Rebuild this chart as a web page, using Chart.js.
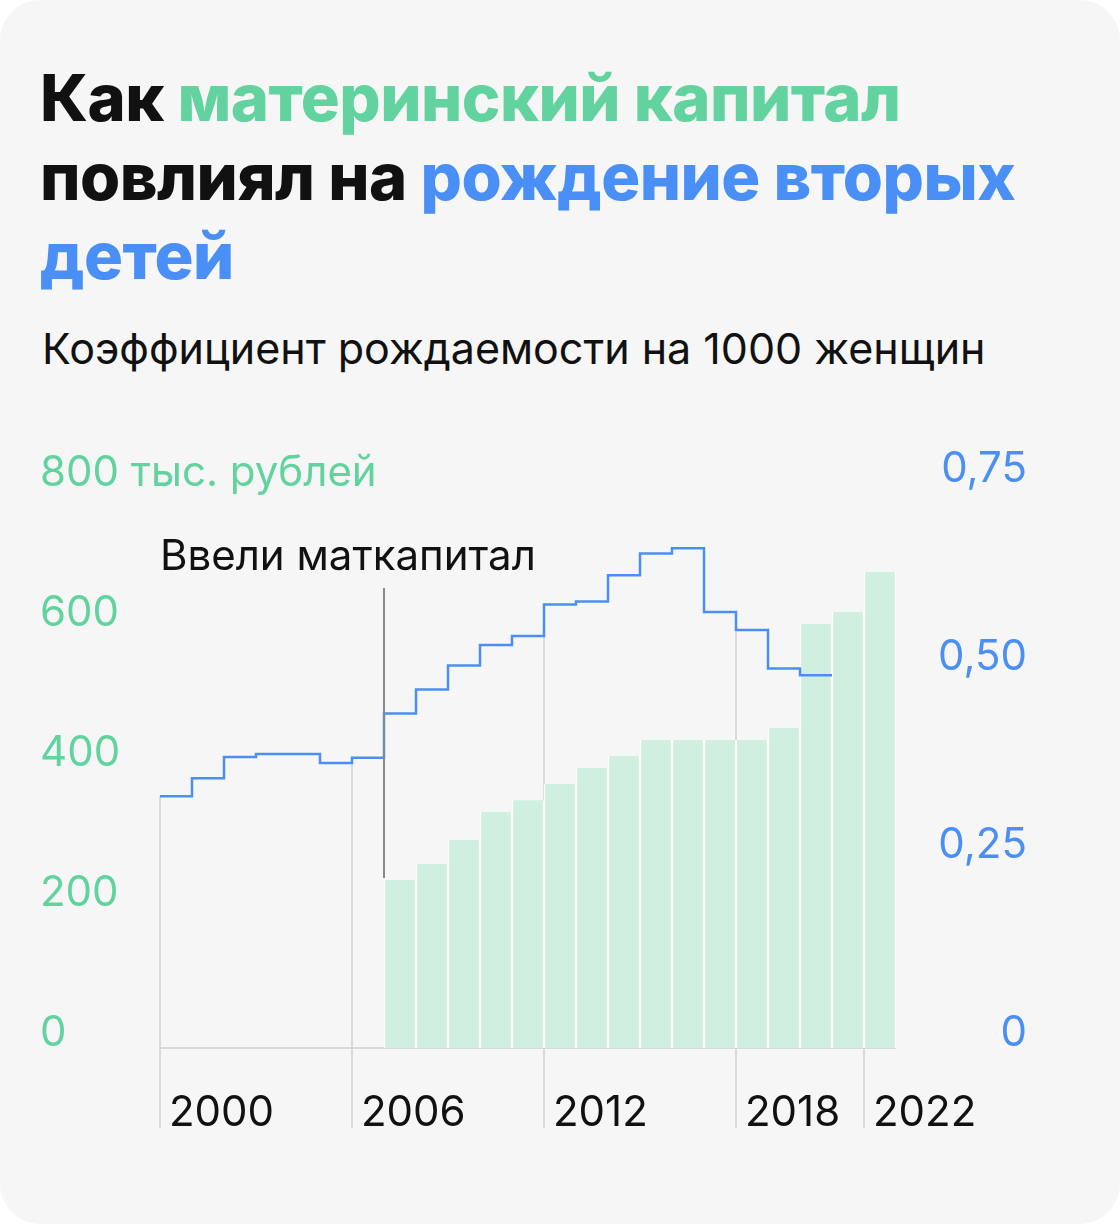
<!DOCTYPE html>
<html lang="ru">
<head>
  <meta charset="UTF-8" />
  <title>Материнский капитал</title>
  <script src="https://cdn.jsdelivr.net/npm/chart.js"></script>
  <style>
    body { margin: 0; background: #fff; font-family: Inter, Roboto, sans-serif; }
    .card { position: absolute; left: 0; top: 0; width: 1120px; height: 1224px; background: #f6f6f6; border-radius: 40px; overflow: hidden; }
    h1 { position: absolute; left: 40px; top: 58px; margin: 0; width: 1060px; font-size: 65px; line-height: 79px; font-weight: 800; color: #111; letter-spacing: -0.5px; }
    .g { color: #62d39f; } .b { color: #4a8ff5; }
    .sub { position: absolute; left: 42px; top: 322px; font-size: 43px; color: #111; }
    canvas { position: absolute; left: 0; top: 0; }
  </style>
</head>
<body>
  <div class="card">
    <h1>Как <span class="g">материнский капитал</span> повлиял на <span class="b">рождение вторых детей</span></h1>
    <div class="sub">Коэффициент рождаемости на 1000 женщин</div>
    <canvas id="c" width="1120" height="1224"></canvas>
  </div>

  <script>
    // birth rate (second children), 2000..2020, last value repeated to close the step
    const lineYears = [2000,2001,2002,2003,2004,2005,2006,2007,2008,2009,2010,2011,2012,2013,2014,2015,2016,2017,2018,2019,2020,2021];
    const lineValues = [0.335,0.359,0.387,0.391,0.391,0.379,0.386,0.445,0.477,0.509,0.536,0.548,0.590,0.594,0.629,0.658,0.665,0.580,0.556,0.505,0.496,0.496];
    // maternity capital, thousand rubles, 2007..2022
    const capYears = [2007,2008,2009,2010,2011,2012,2013,2014,2015,2016,2017,2018,2019,2020,2021,2022];
    const capValues = [240,263,297,337,354,377,400,417,440,440,440,440,457,606,623,680];
    const leftTicks = [0,200,400,600];
    const rightTicks = [[0,'0'],[0.25,'0,25'],[0.5,'0,50'],[0.75,'0,75']];
    const yearTicks = [2000,2006,2012,2018,2022];
    const dropYears = [2000,2006,2012,2018];

    const GREEN = '#62d39f', BLUE = '#4a8ff5';

    const extras = {
      id: 'extras',
      beforeDatasetsDraw(chart) {
        const c = chart.ctx, x = chart.scales.x, yr = chart.scales.yr;
        const base = chart.scales.yl.getPixelForValue(0);
        c.save();
        c.strokeStyle = '#d0d0d0'; c.lineWidth = 1.5;
        dropYears.forEach(yy => {
          const i = lineYears.indexOf(yy);
          const px = x.getPixelForValue(yy);
          c.beginPath(); c.moveTo(px, yr.getPixelForValue(lineValues[i])); c.lineTo(px, base); c.stroke();
        });
        yearTicks.forEach(yy => {
          const px = x.getPixelForValue(yy);
          c.beginPath(); c.moveTo(px, base); c.lineTo(px, base + 80); c.stroke();
        });
        c.beginPath(); c.moveTo(x.getPixelForValue(2000), base); c.lineTo(x.getPixelForValue(2023), base); c.stroke();
        c.restore();
      },
      afterDraw(chart) {
        const c = chart.ctx, x = chart.scales.x, yl = chart.scales.yl, yr = chart.scales.yr;
        const base = yl.getPixelForValue(0);
        c.save();
        c.font = '42px Inter, Roboto, sans-serif';
        c.textBaseline = 'middle';
        c.fillStyle = GREEN; c.textAlign = 'left';
        leftTicks.forEach(v => c.fillText(String(v), 40, yl.getPixelForValue(v) - 15));
        c.fillText('800 тыс. рублей', 40, yl.getPixelForValue(800) - 15);
        c.fillStyle = BLUE; c.textAlign = 'right';
        rightTicks.forEach(([v, t]) => c.fillText(t, 1027, yr.getPixelForValue(v) - 15));
        c.fillStyle = '#111'; c.textAlign = 'left';
        yearTicks.forEach(yy => c.fillText(String(yy), x.getPixelForValue(yy) + 9, base + 65));
        // annotation
        const ax = x.getPixelForValue(2007);
        c.strokeStyle = '#888'; c.lineWidth = 2;
        c.beginPath(); c.moveTo(ax, 588); c.lineTo(ax, 878); c.stroke();
        c.fillText('Ввели маткапитал', 160, 557);
        c.restore();
      }
    };

    new Chart(document.getElementById('c'), {
      data: {
        datasets: [{
          type: 'line',
          data: lineYears.map((y, i) => ({ x: y, y: lineValues[i] })),
          yAxisID: 'yr',
          stepped: true,
          borderColor: BLUE,
          borderWidth: 2.5,
          pointRadius: 0,
          order: 0
        }, {
          type: 'bar',
          data: capYears.map((y, i) => ({ x: y + 0.5, y: capValues[i] })),
          yAxisID: 'yl',
          backgroundColor: '#cff0df',
          borderColor: '#ffffff',
          borderWidth: { left: 1.5, right: 1.5, top: 0, bottom: 0 },
          barPercentage: 1,
          categoryPercentage: 1,
          order: 1
        }]
      },
      options: {
        responsive: false,
        animation: false,
        layout: { padding: { left: 160, right: 224, top: 488, bottom: 176 } },
        plugins: { legend: { display: false }, tooltip: { enabled: false } },
        scales: {
          x: { type: 'linear', min: 2000, max: 2023, offset: false, display: false },
          yl: { min: 0, max: 800, display: false },
          yr: { min: 0, max: 0.745, display: false }
        }
      },
      plugins: [extras]
    });
  </script>
</body>
</html>
